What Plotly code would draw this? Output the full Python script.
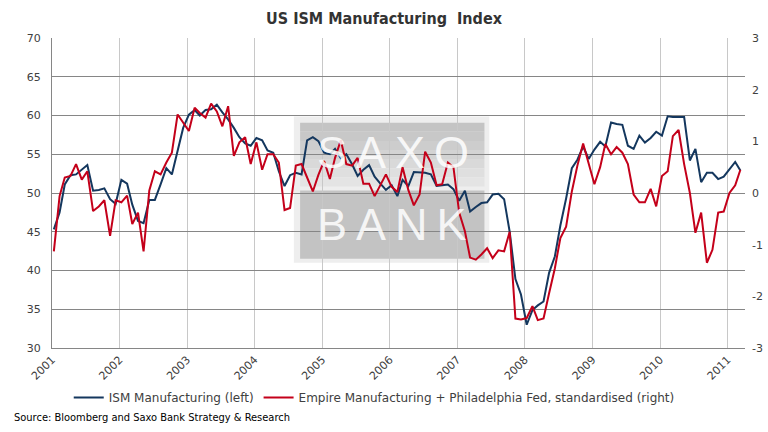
import pandas as pd
import plotly.graph_objects as go

# ISM Manufacturing (left axis), monthly from Jan 2001
ism = [45.3, 47.5, 51.1, 52.3, 52.4, 53.0, 53.6, 50.3, 50.4, 50.6, 49.2, 48.6,
       51.7, 51.2, 48.5, 46.4, 46.1, 49.1, 49.1, 51.1, 53.2, 52.4, 55.4, 58.4,
       60.1, 60.7, 60.0, 60.7, 60.8, 61.4, 60.4, 59.5, 58.4, 57.2, 56.4, 56.1,
       57.1, 56.8, 55.5, 55.2, 52.8, 50.9, 52.3, 52.6, 52.4, 56.8, 57.2, 56.7,
       55.2, 55.0, 55.7, 54.5, 55.0, 53.7, 52.2, 53.0, 53.6, 52.1, 51.2, 50.4,
       51.0, 49.6, 51.7, 50.9, 52.7, 52.6, 52.6, 52.4, 50.9, 51.0, 51.1, 50.5,
       49.0, 50.3, 47.6, 48.2, 48.7, 48.8, 49.8, 49.9, 49.2, 45.0, 38.9, 36.9,
       33.0, 34.9, 35.5, 36.0, 39.7, 41.8, 45.8, 49.3, 53.2, 54.3, 56.0, 54.4,
       55.6, 56.6, 56.0, 59.1, 58.9, 58.8, 56.1, 55.7, 57.4, 56.5, 57.1, 57.9,
       57.4, 59.9, 59.8, 59.8, 59.8, 54.2, 55.7, 51.4, 52.6, 52.6, 51.8, 52.1,
       53.0, 54.0, 52.9]

# Empire Manufacturing + Philadelphia Fed, standardised (right axis)
empire_philly = [-1.13, -0.06, 0.30, 0.33, 0.56, 0.26, 0.42, -0.35, -0.26, -0.14, -0.83, -0.14,
                 -0.18, -0.05, -0.60, -0.38, -1.13, 0.05, 0.42, 0.36, 0.59, 0.78, 1.52, 1.37,
                 1.20, 1.65, 1.55, 1.46, 1.73, 1.58, 1.29, 1.68, 0.72, 0.98, 1.08, 0.56,
                 0.98, 0.45, 0.75, 0.75, 0.59, -0.33, -0.29, 0.53, 0.56, 0.30, 0.03, 0.35,
                 0.62, 0.27, 0.68, 1.02, 0.56, 0.53, 0.68, 0.18, 0.18, -0.06, 0.17, 0.36,
                 0.12, 0.02, 0.50, 0.06, -0.24, -0.03, 0.80, 0.59, 0.15, 0.17, 0.59, 0.50,
                 -0.38, -0.74, -1.25, -1.29, -1.19, -1.07, -1.26, -1.11, -1.13, -0.75, -2.43, -2.45,
                 -2.42, -2.19, -2.46, -2.43, -1.94, -1.46, -0.87, -0.65, 0.03, 0.53, 0.96, 0.59,
                 0.17, 0.50, 0.95, 0.75, 0.89, 0.78, 0.56, -0.03, -0.18, -0.18, 0.08, -0.26,
                 0.33, 0.42, 1.10, 1.22, 0.56, 0.00, -0.77, -0.38, -1.35, -1.10, -0.38, -0.36,
                 0.00, 0.15, 0.45]

start_month = "2001-01-01"
dates = pd.date_range(start_month, periods=len(ism), freq="MS") + pd.Timedelta(days=10)

left_ticks = [30, 35, 40, 45, 50, 55, 60, 65, 70]
right_ticks = [-3, -2, -1, 0, 1, 2, 3]
right_ticktext = ["-3", "-2", "-1", "0", "1", "2", "3"]

BLUE = "#14375e"
RED = "#c4001a"
TXT = "#404040"
FONT = "DejaVu Sans"
NARROW = "Liberation Sans Narrow, DejaVu Sans Condensed, Arial Narrow, sans-serif"

fig = go.Figure()
fig.add_trace(go.Scatter(x=dates, y=ism, mode="lines", name="ISM Manufacturing (left)",
                         line=dict(color=BLUE, width=2), yaxis="y"))
fig.add_trace(go.Scatter(x=dates, y=empire_philly, mode="lines",
                         name="Empire Manufacturing + Philadelphia Fed, standardised (right)",
                         line=dict(color=RED, width=2), yaxis="y2"))

# Watermark (SAXO BANK) boxes
shapes = [
    dict(type="rect", xref="paper", yref="paper", x0=0.349, x1=0.631, y0=0.275, y1=0.747,
         fillcolor="#eeeeee", line=dict(width=0), layer="below"),
    dict(type="rect", xref="paper", yref="paper", x0=0.358, x1=0.624, y0=0.288, y1=0.508,
         fillcolor="#c3c3c3", line=dict(width=0), layer="below"),
]
grad = ["#c4c4c4", "#c8c8c8", "#cdcdcd", "#d3d3d3", "#d9d9d9", "#dfdfdf", "#e4e4e4"]
top0, top1 = 0.727, 0.521
step = (top0 - top1) / len(grad)
for i, c in enumerate(grad):
    shapes.append(dict(type="rect", xref="paper", yref="paper", x0=0.358, x1=0.624,
                       y0=top0 - (i + 1) * step, y1=top0 - i * step,
                       fillcolor=c, line=dict(width=0), layer="below"))

annotations = [
    dict(text="S\u2009A\u2009X\u2009O", xref="paper", yref="paper", x=0.4916, y=0.632,
         xanchor="center", yanchor="middle", showarrow=False,
         font=dict(family="Liberation Sans, Arial, sans-serif", size=45,
                   color="rgba(255,255,255,0.85)")),
    dict(text="B\u2009A\u2009N\u2009K", xref="paper", yref="paper", x=0.490, y=0.398,
         xanchor="center", yanchor="middle", showarrow=False,
         font=dict(family="Liberation Sans, Arial, sans-serif", size=45,
                   color="rgba(255,255,255,0.85)")),
    dict(text="Source: Bloomberg and Saxo Bank Strategy & Research", xref="paper", yref="paper",
         x=-0.057, y=-0.225, xanchor="left", yanchor="middle", showarrow=False,
         font=dict(family=NARROW, size=11, color="#000000")),
]

fig.update_layout(
    width=768, height=432, autosize=False,
    margin=dict(l=52, r=23, t=38, b=84, autoexpand=False),
    paper_bgcolor="white", plot_bgcolor="rgba(0,0,0,0)",
    title=dict(text="<b>US ISM Manufacturing  Index</b>", x=0.5, xanchor="center",
               y=0.958, yanchor="middle",
               font=dict(family=NARROW, size=16, color="#333333")),
    showlegend=True,
    legend=dict(orientation="h", x=0.465, xanchor="center", y=-0.16, yanchor="middle",
                font=dict(family=FONT, size=12, color=TXT), itemwidth=30,
                bgcolor="rgba(0,0,0,0)"),
    xaxis=dict(type="date", range=["2001-01-01", "2011-04-05"], tick0="2001-01-01",
               dtick="M12", tickformat="%Y", tickangle=-45, showgrid=True,
               gridcolor="#c8c8c8", gridwidth=1, showline=True, linecolor="#868686",
               linewidth=1, ticks="", zeroline=False, automargin=False,
               tickfont=dict(family=FONT, size=11, color=TXT)),
    yaxis=dict(range=[30, 70], tickvals=left_ticks, showgrid=True, gridcolor="#868686",
               gridwidth=1, showline=True, linecolor="#868686", zeroline=False, ticks="",
               ticklabelstandoff=8, automargin=False,
               tickfont=dict(family=FONT, size=11, color=TXT)),
    yaxis2=dict(range=[-3, 3], tickvals=right_ticks, ticktext=right_ticktext,
                overlaying="y", side="right", showgrid=False, zeroline=False,
                showline=False, ticks="", ticklabelstandoff=6, automargin=False,
                tickfont=dict(family=FONT, size=11, color=TXT)),
    shapes=shapes,
    annotations=annotations,
)

fig.write_html("out.html", config={"displayModeBar": False},
               post_script="document.body.style.margin='0';document.body.style.padding='0';")
